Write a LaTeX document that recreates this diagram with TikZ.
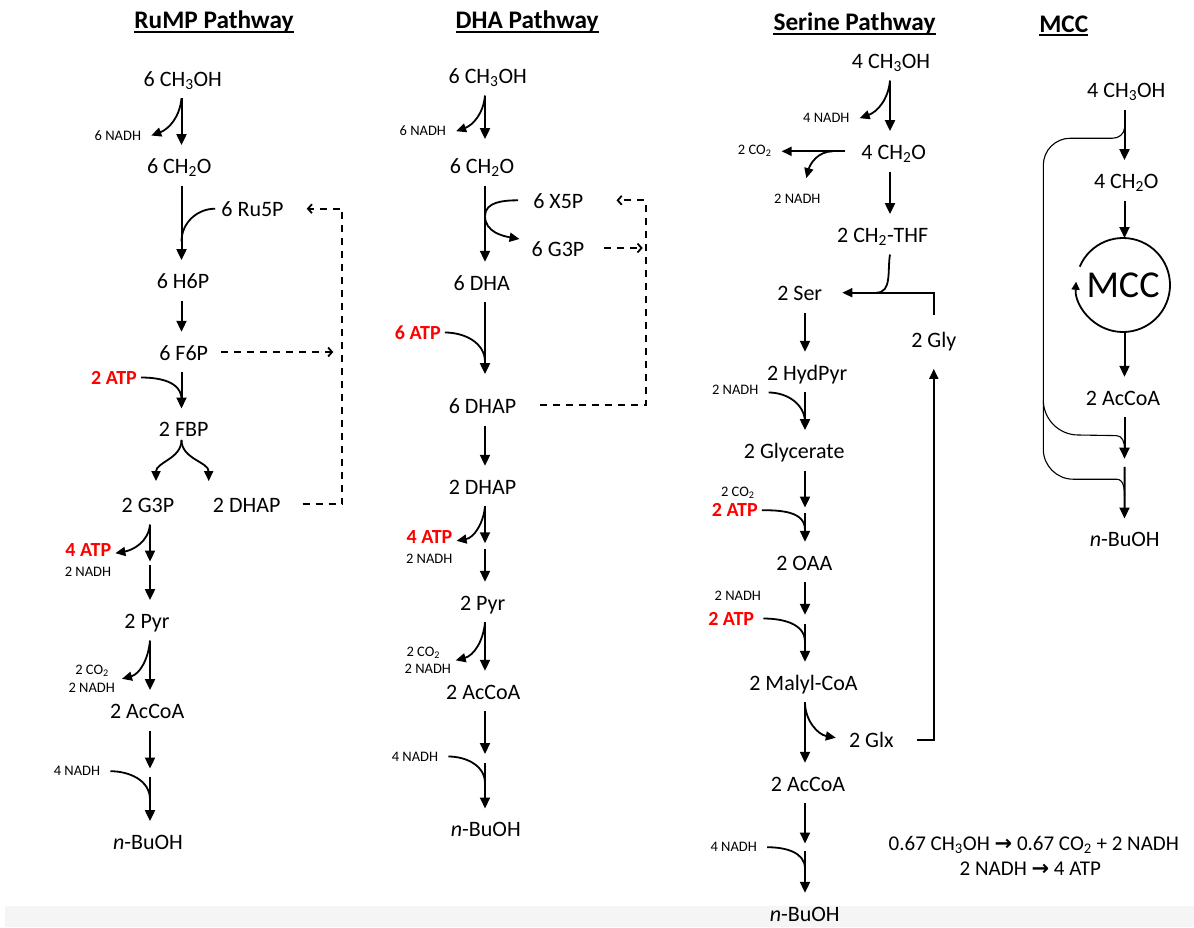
\documentclass[tikz,border=0pt]{standalone}
\usepackage{fontspec}
\setmainfont{Carlito}
\newfontfamily\arrowfont{DejaVu Sans}
\usetikzlibrary{arrows.meta,calc}
\definecolor{atpred}{RGB}{255,0,0}
\definecolor{band}{RGB}{245,245,245}

\begin{document}
\begin{tikzpicture}[x=1pt,y=1pt,
	met/.style={anchor=base,font=\fontsize{22}{26}\selectfont,text height=24pt,text depth=8pt,inner xsep=2pt,inner ysep=4pt},
	cof/.style={anchor=base,font=\fontsize{14.5}{16}\selectfont,text height=9pt,text depth=0pt,inner xsep=10pt,inner ysep=2pt},
	atp/.style={anchor=base,font=\bfseries\fontsize{20}{24}\selectfont,text=atpred,text height=13pt,text depth=0pt,inner xsep=4pt,inner ysep=2pt},
	ttl/.style={anchor=base,font=\bfseries\fontsize{25.3}{28}\selectfont,inner sep=0pt},
	uline/.style={line width=1.8pt},
	rxn/.style={-{Triangle[length=11pt,width=10pt]},line width=2pt},
	side/.style={line width=1.8pt},
	sidearr/.style={side,-{Triangle[length=10pt,width=9pt]}},
	recyc/.style={line width=1.8pt,dash pattern=on 7pt off 6pt},
	recycarr/.style={recyc,-{Straight Barb[length=4pt,width=9pt]}},
	thin/.style={line width=1.1pt}]

	\useasboundingbox (0,0) rectangle (1194,-927);
	\fill[band] (5,-906) rectangle (1194,-927);

	\coordinate (r-ax) at (181.5,0);
	\coordinate (r-bx) at (150,0);
	\coordinate (r-loop) at (342.3,-350);

	\node[ttl] (r-ttl) at (214,-28.3) {RuMP Pathway};
	\draw[uline] ([yshift=-3.5pt]r-ttl.base west) -- ([yshift=-3.5pt]r-ttl.base east);

	\node[met] (r1) at (182.8,-86) {6 CH\textsubscript{3}OH};
	\node[cof] (r-n1) at (117.9,-140) {6 NADH};
	\node[met] (r2) at (179.3,-173.3) {6 CH\textsubscript{2}O};
	\node[met] (r-ru5p) at (252.5,-216.7) {6 Ru5P};
	\node[met] (r3) at (183,-288.3) {6 H6P};
	\node[met] (r4) at (183.7,-360) {6 F6P};
	\node[atp] (r-atp1) at (114,-384) {2 ATP};
	\node[met] (r5) at (183.7,-436.7) {2 FBP};
	\node[met] (r6) at (148,-512.3) {2 G3P};
	\node[met] (r-dhap) at (246.7,-512.3) {2 DHAP};
	\node[atp] (r-atp2) at (88.3,-556.7) {4 ATP};
	\node[cof] (r-n2) at (88,-576.7) {2 NADH};
	\node[met] (r7) at (147,-628.3) {2 Pyr};
	\node[cof] (r-co2) at (92,-674.3) {2 CO\textsubscript{2}};
	\node[cof] (r-n3) at (91.7,-692.3) {2 NADH};
	\node[met] (r8) at (147.2,-718.3) {2 AcCoA};
	\node[cof] (r-n4) at (77,-775.7) {4 NADH};
	\node[met] (r9) at (148,-849.3) {\textit{n}-BuOH};

	\draw[rxn] (r1.south -| r-ax) -- (r2.north -| r-ax);
	\draw[sidearr] (r1.south -| r-ax) to[out=-95,in=20] (r-n1.east);
	\draw[rxn] (r2.south -| r-ax) -- (r3.north -| r-ax);
	\draw[side] ([xshift=-4pt]r-ru5p.west) to[out=180,in=90] ($(r2.south -| r-ax)!0.75!(r3.north -| r-ax)$);
	\draw[rxn] (r3.south -| r-ax) -- (r4.north -| r-ax);
	\draw[rxn] (r4.south -| r-ax) -- (r5.north -| r-ax);
	\draw[side] (r-atp1.east) to[out=0,in=90] ($(r4.south -| r-ax)!0.75!(r5.north -| r-ax)$);
	\draw[sidearr] ([yshift=9pt]r5.south -| r-ax) to[out=-90,in=90] ([xshift=8pt,yshift=3pt]r6.north);
	\draw[sidearr] ([yshift=9pt]r5.south -| r-ax) to[out=-90,in=90] ([xshift=-38pt,yshift=3pt]r-dhap.north);
	\draw[recycarr] ([xshift=20pt]r-dhap.east) -| (r-loop) |- ([xshift=21pt]r-ru5p.east);
	\draw[recycarr] ([xshift=11pt]r4.east) -- ([xshift=-9pt]r4.east -| r-loop);

	\coordinate (r-m6a) at ($(r6.south -| r-bx)!0.49!(r7.north -| r-bx)$);
	\coordinate (r-m6b) at ($(r6.south -| r-bx)!0.54!(r7.north -| r-bx)$);
	\draw[rxn] (r6.south -| r-bx) -- (r-m6a);
	\draw[rxn] (r-m6b) -- (r7.north -| r-bx);
	\draw[sidearr] (r6.south -| r-bx) to[out=-95,in=10] ([yshift=-3pt]r-atp2.east);
	\draw[rxn] (r7.south -| r-bx) -- (r8.north -| r-bx);
	\draw[sidearr] (r7.south -| r-bx) to[out=-95,in=15] ($(r-co2.east)!0.5!(r-n3.east)$);
	\coordinate (r-m8a) at ($(r8.south -| r-bx)!0.42!(r9.north -| r-bx)$);
	\coordinate (r-m8b) at ($(r8.south -| r-bx)!0.51!(r9.north -| r-bx)$);
	\draw[rxn] (r8.south -| r-bx) -- (r-m8a);
	\draw[rxn] (r-m8b) -- (r9.north -| r-bx);
	\draw[side] (r-n4.east) to[out=0,in=90] ($(r8.south -| r-bx)!0.76!(r9.north -| r-bx)$);

	\coordinate (d-ax) at (485,0);
	\coordinate (d-loop) at (645.7,-300);

	\node[ttl] (d-ttl) at (527.2,-28.3) {DHA Pathway};
	\draw[uline] ([yshift=-3.5pt]d-ttl.base west) -- ([yshift=-3.5pt]d-ttl.base east);

	\node[met] (d1) at (487.7,-83.3) {6 CH\textsubscript{3}OH};
	\node[cof] (d-n1) at (422.8,-135.7) {6 NADH};
	\node[met] (d2) at (482,-173.3) {6 CH\textsubscript{2}O};
	\node[met] (d-x5p) at (558.3,-208.3) {6 X5P};
	\node[met] (d-g3p) at (558,-256) {6 G3P};
	\node[met] (d3) at (481.7,-290) {6 DHA};
	\node[atp] (d-atp1) at (417.8,-339) {6 ATP};
	\node[met] (d4) at (482.5,-413.3) {6 DHAP};
	\node[met] (d5) at (482.5,-494) {2 DHAP};
	\node[atp] (d-atp2) at (429.5,-543.3) {4 ATP};
	\node[cof] (d-n2) at (429.2,-563.3) {2 NADH};
	\node[met] (d6) at (482.7,-610) {2 Pyr};
	\node[cof] (d-co2) at (423.3,-656.7) {2 CO\textsubscript{2}};
	\node[cof] (d-n3) at (427.8,-673) {2 NADH};
	\node[met] (d7) at (483.3,-699) {2 AcCoA};
	\node[cof] (d-n4) at (415,-761) {4 NADH};
	\node[met] (d8) at (485.8,-836.7) {\textit{n}-BuOH};

	\draw[rxn,shorten >=6pt] (d1.south -| d-ax) -- (d2.north -| d-ax);
	\draw[sidearr] (d1.south -| d-ax) to[out=-95,in=20] (d-n1.east);
	\draw[rxn] (d2.south -| d-ax) -- (d3.north -| d-ax);
	\coordinate (d-touch) at ($(d2.south -| d-ax)!0.4!(d3.north -| d-ax)$);
	\draw[sidearr] ([xshift=-13pt]d-x5p.west) to[out=180,in=90] (d-touch) to[out=-90,in=170] ([xshift=-10pt,yshift=9pt]d-g3p.west);
	\draw[recycarr] ([xshift=22pt]d4.east) -| (d-loop) |- ([xshift=31pt]d-x5p.east);
	\draw[recycarr] ([xshift=18pt]d-g3p.east) -- ([xshift=-3pt]d-g3p.east -| d-loop);
	\draw[rxn,shorten >=11pt] (d3.south -| d-ax) -- (d4.north -| d-ax);
	\draw[side] (d-atp1.east) to[out=0,in=90] ($(d3.south -| d-ax)!0.72!(d4.north -| d-ax)$);
	\draw[rxn] (d4.south -| d-ax) -- (d5.north -| d-ax);
	\coordinate (d-m5a) at ($(d5.south -| d-ax)!0.49!(d6.north -| d-ax)$);
	\coordinate (d-m5b) at ($(d5.south -| d-ax)!0.56!(d6.north -| d-ax)$);
	\draw[rxn] (d5.south -| d-ax) -- (d-m5a);
	\draw[rxn] (d-m5b) -- (d6.north -| d-ax);
	\draw[sidearr] (d5.south -| d-ax) to[out=-95,in=10] ([yshift=-4pt]d-atp2.east);
	\draw[rxn] (d6.south -| d-ax) -- (d7.north -| d-ax);
	\draw[sidearr] (d6.south -| d-ax) to[out=-95,in=15] ($(d-co2.east)!0.5!(d-n3.east)$);
	\coordinate (d-m7a) at ($(d7.south -| d-ax)!0.44!(d8.north -| d-ax)$);
	\coordinate (d-m7b) at ($(d7.south -| d-ax)!0.53!(d8.north -| d-ax)$);
	\draw[rxn] (d7.south -| d-ax) -- (d-m7a);
	\draw[rxn] (d-m7b) -- (d8.north -| d-ax);
	\draw[side] (d-n4.east) to[out=0,in=90] ($(d7.south -| d-ax)!0.74!(d8.north -| d-ax)$);

	\coordinate (s-tx) at (890,0);
	\coordinate (s-ax) at (805,0);

	\node[ttl] (s-ttl) at (854.5,-30.7) {Serine Pathway};
	\draw[uline] ([yshift=-3.5pt]s-ttl.base west) -- ([yshift=-3.5pt]s-ttl.base east);

	\node[met] (s1) at (891,-68.3) {4 CH\textsubscript{3}OH};
	\node[cof] (s-n1) at (826.3,-122.7) {4 NADH};
	\node[met] (s2) at (893.7,-159.3) {4 CH\textsubscript{2}O};
	\node[cof] (s-co2) at (754.7,-154.3) {2 CO\textsubscript{2}};
	\node[cof] (s-n2) at (797.3,-203.3) {2 NADH};
	\node[met] (s3) at (882.7,-242.3) {2 CH\textsubscript{2}-THF};
	\node[met] (s4) at (799.7,-300.7) {2 Ser};
	\node[met] (s-gly) at (933.8,-347.7) {2 Gly};
	\node[met] (s5) at (807.2,-380) {2 HydPyr};
	\node[cof] (s-n3) at (735.2,-394) {2 NADH};
	\node[met] (s6) at (794.2,-458.3) {2 Glycerate};
	\node[cof] (s-co2b) at (737.8,-496.7) {2 CO\textsubscript{2}};
	\node[atp] (s-atp1) at (734.8,-516.7) {2 ATP};
	\node[met] (s7) at (804.3,-570) {2 OAA};
	\node[cof] (s-n4) at (737.8,-600) {2 NADH};
	\node[atp] (s-atp2) at (731.2,-625) {2 ATP};
	\node[met] (s8) at (803.5,-690) {2 Malyl-CoA};
	\node[met] (s-glx) at (871.3,-747.7) {2 Glx};
	\node[met] (s9) at (808,-791) {2 AcCoA};
	\node[cof] (s-n5) at (733.7,-851.7) {4 NADH};
	\node[met] (s10) at (804.7,-921) {\textit{n}-BuOH};

	\draw[rxn] (s1.south -| s-tx) -- (s2.north -| s-tx);
	\draw[sidearr] (s1.south -| s-tx) to[out=-95,in=20] (s-n1.east);
	\draw[sidearr] ([xshift=-14pt]s2.west) -- (s-co2.east |- s2.west);
	\draw[sidearr] ($([xshift=-14pt]s2.west)!0.2!(s-co2.east |- s2.west)$) to[out=180,in=75] ([xshift=9pt,yshift=14pt]s-n2.north);
	\draw[rxn] (s2.south -| s-tx) -- (s3.north -| s-tx);
	\draw[side] (s3.south -| s-tx) to[out=-100,in=0] ([xshift=52pt]s4.east);
	\draw[sidearr] ([yshift=5pt]s-gly.north) |- ([xshift=18pt]s4.east);
	\draw[rxn] (s4.south -| s-ax) -- (s5.north -| s-ax);
	\draw[rxn] (s5.south -| s-ax) -- (s6.north -| s-ax);
	\draw[side] ([yshift=-3pt]s-n3.east) to[out=0,in=90] ($(s5.south -| s-ax)!0.8!(s6.north -| s-ax)$);
	\coordinate (s-m6a) at ($(s6.south -| s-ax)!0.52!(s7.north -| s-ax)$);
	\coordinate (s-m6b) at ($(s6.south -| s-ax)!0.6!(s7.north -| s-ax)$);
	\draw[rxn] (s6.south -| s-ax) -- (s-m6a);
	\draw[rxn] (s-m6b) -- (s7.north -| s-ax);
	\draw[side] (s-atp1.east) to[out=0,in=90] ($(s6.south -| s-ax)!0.83!(s7.north -| s-ax)$);
	\coordinate (s-m7a) at ($(s7.south -| s-ax)!0.41!(s8.north -| s-ax)$);
	\coordinate (s-m7b) at ($(s7.south -| s-ax)!0.52!(s8.north -| s-ax)$);
	\draw[rxn] (s7.south -| s-ax) -- (s-m7a);
	\draw[rxn] (s-m7b) -- (s8.north -| s-ax);
	\draw[side] ([xshift=5pt]s-atp2.east) to[out=0,in=90] ($(s7.south -| s-ax)!0.75!(s8.north -| s-ax)$);
	\draw[rxn] (s8.south -| s-ax) -- (s9.north -| s-ax);
	\draw[sidearr] (s8.south -| s-ax) to[out=-90,in=170] ([xshift=-11pt,yshift=2pt]s-glx.west);
	\draw[sidearr] ([xshift=21pt]s-glx.east) -| ([yshift=-9pt]s-gly.south);
	\coordinate (s-m9a) at ($(s9.south -| s-ax)!0.45!(s10.north -| s-ax)$);
	\coordinate (s-m9b) at ($(s9.south -| s-ax)!0.535!(s10.north -| s-ax)$);
	\draw[rxn] (s9.south -| s-ax) -- (s-m9a);
	\draw[rxn] (s-m9b) -- (s10.north -| s-ax);
	\draw[side] (s-n5.east) to[out=0,in=90] ($(s9.south -| s-ax)!0.73!(s10.north -| s-ax)$);

	\coordinate (m-ax) at (1124.5,0);
	\coordinate (m-side) at (1043.3,-400);

	\node[ttl] (m-ttl) at (1063.8,-32.3) {MCC};
	\draw[uline] ([yshift=-3pt]m-ttl.base west) -- ([yshift=-3pt]m-ttl.base east);

	\node[met] (m1) at (1126.3,-97.3) {4 CH\textsubscript{3}OH};
	\node[met] (m2) at (1126.3,-188.3) {4 CH\textsubscript{2}O};
	\node[circle,minimum size=94pt,inner sep=0pt,outer sep=0pt,font=\fontsize{38}{42}\selectfont] (m-cyc) at (1123,-285) {MCC};
	\node[met] (m3) at (1123,-405) {2 AcCoA};
	\node[met] (m4) at (1124.7,-546.7) {\textit{n}-BuOH};

	\draw[rxn] (m1.south -| m-ax) -- (m2.north -| m-ax);
	\draw[rxn] (m2.south -| m-ax) -- (m-cyc.north -| m-ax);
	\draw[side,-{Triangle[length=8pt,width=8pt]}] (m-cyc.157) arc[start angle=157,end angle=-184,radius=47pt];
	\draw[rxn] (m-cyc.south -| m-ax) -- (m3.north -| m-ax);
	\coordinate (m-m3a) at ($(m3.south -| m-ax)!0.41!(m4.north -| m-ax)$);
	\coordinate (m-m3b) at ($(m3.south -| m-ax)!0.49!(m4.north -| m-ax)$);
	\draw[rxn] (m3.south -| m-ax) -- (m-m3a);
	\draw[rxn] (m-m3b) -- (m4.north -| m-ax);

	\coordinate (m-j0) at ($(m1.south -| m-ax)!0.37!(m2.north -| m-ax)$);
	\coordinate (m-j1) at ($(m3.south -| m-ax)!0.31!(m4.north -| m-ax)$);
	\coordinate (m-j2) at ($(m3.south -| m-ax)!0.78!(m4.north -| m-ax)$);
	\coordinate (m-top) at ($(m-j0)+(-12,-10)$);
	\coordinate (m-up) at ($(m-j1)+(-8,13)$);
	\coordinate (m-low) at ($(m-j2)+(-8,17)$);
	\draw[thin] (m-j0) to[out=-95,in=0] (m-top) -- ([xshift=27pt]m-top -| m-side) arc[start angle=90,end angle=180,radius=27pt] -- ([yshift=30pt]m-low -| m-side) arc[start angle=180,end angle=270,radius=30pt] -- (m-low) to[out=0,in=90] (m-j2);
	\draw[thin] (m-side) arc[start angle=180,end angle=270,radius=35pt] -- (m-up) to[out=0,in=90] (m-j1);

	\node[met,font=\fontsize{21}{24}\selectfont] (eq-a) at (1033.8,-850.7) {0.67 CH\textsubscript{3}OH {\arrowfont\bfseries →} 0.67 CO\textsubscript{2} + 2 NADH};
	\node[met,font=\fontsize{21}{24}\selectfont] (eq-b) at (1030.3,-875) {2 NADH {\arrowfont\bfseries →} 4 ATP};

\end{tikzpicture}
\end{document}
